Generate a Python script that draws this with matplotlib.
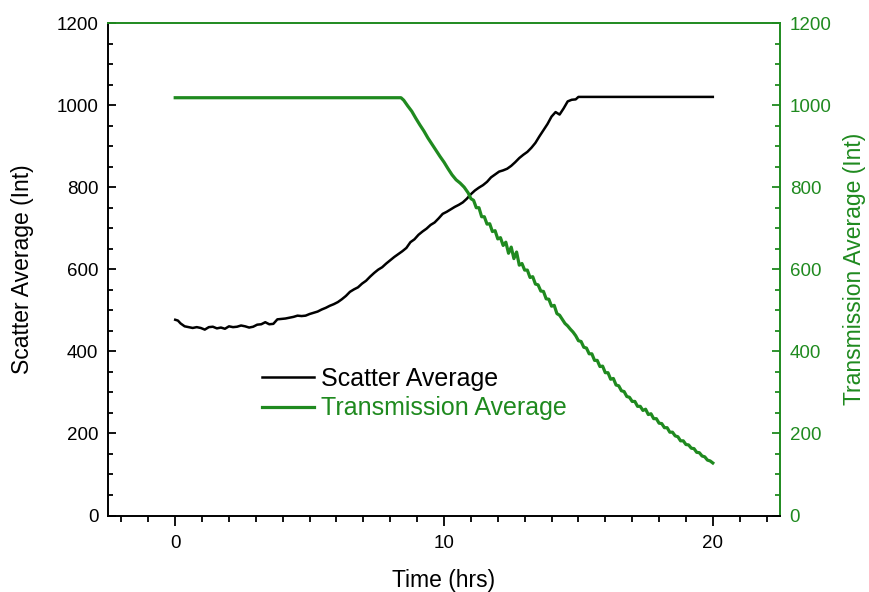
import matplotlib
matplotlib.use("Agg")
import matplotlib.pyplot as plt
from matplotlib.ticker import MultipleLocator

plt.rcParams['font.family'] = ['Liberation Sans', 'DejaVu Sans']

GREEN = "#1f8a1f"

# Scatter average (left axis)
scatter_t = [0.0, 0.1, 0.2, 0.35, 0.5, 0.65, 0.8, 0.95, 1.1, 1.25, 1.4, 1.55, 1.7, 1.85,
             2.0, 2.15, 2.3, 2.45, 2.6, 2.75, 2.9, 3.05, 3.2, 3.35, 3.5, 3.65, 3.8, 3.95,
             4.1, 4.25, 4.4, 4.55, 4.7, 4.85, 5.0, 5.15, 5.3, 5.45, 5.6, 5.75, 5.9, 6.05,
             6.2, 6.35, 6.5, 6.65, 6.8, 6.95, 7.1, 7.25, 7.4, 7.55, 7.7, 7.85, 8.0, 8.15,
             8.3, 8.45, 8.6, 8.75, 8.9, 9.05, 9.2, 9.35, 9.5, 9.65, 9.8, 9.95, 10.1, 10.25,
             10.4, 10.55, 10.7, 10.85, 11.0, 11.15, 11.3, 11.45, 11.6, 11.75, 11.9, 12.05,
             12.2, 12.35, 12.5, 12.65, 12.8, 12.95, 13.1, 13.25, 13.4, 13.55, 13.7, 13.85,
             14.0, 14.15, 14.3, 14.45, 14.6, 14.75, 14.9, 15.0, 16.0, 17.0, 18.0, 19.0, 20.0]
scatter = [477, 475, 468, 461, 459, 457, 459, 457, 453, 459, 460, 456, 458, 455,
           461, 459, 460, 463, 461, 458, 460, 465, 466, 471, 466, 467, 478, 479,
           480, 482, 484, 487, 486, 487, 491, 494, 497, 502, 506, 511, 515, 520,
           527, 535, 545, 551, 556, 565, 572, 582, 591, 599, 605, 614, 622, 630,
           637, 644, 652, 666, 673, 684, 692, 699, 708, 714, 724, 735, 740, 746,
           752, 757, 763, 772, 783, 792, 799, 805, 813, 824, 831, 838,
           841, 845, 852, 861, 871, 879, 886, 896, 908, 924, 939, 954,
           972, 983, 977, 992, 1009, 1013, 1014, 1020, 1020, 1020, 1020, 1020, 1020]

# Transmission average (right axis)
trans_t = [0.0, 2.0, 4.0, 6.0, 8.4, 8.5, 8.65, 8.8, 8.95, 9.1, 9.25, 9.4, 9.55, 9.7, 9.85,
           10.0, 10.15, 10.3, 10.45, 10.6, 10.75, 10.9, 11.0,
           11.1, 11.2, 11.3, 11.4, 11.5, 11.6, 11.7, 11.8, 11.9, 12.0,
           12.1, 12.2, 12.3, 12.4, 12.5, 12.6, 12.7, 12.8, 12.9, 13.0,
           13.1, 13.2, 13.3, 13.4, 13.5, 13.6, 13.7, 13.8, 13.9, 14.0,
           14.1, 14.2, 14.3, 14.4, 14.5, 14.6, 14.7, 14.8, 14.9, 15.0,
           15.1, 15.2, 15.3, 15.4, 15.5, 15.6, 15.7, 15.8, 15.9, 16.0,
           16.1, 16.2, 16.3, 16.4, 16.5, 16.6, 16.7, 16.8, 16.9, 17.0,
           17.1, 17.2, 17.3, 17.4, 17.5, 17.6, 17.7, 17.8, 17.9, 18.0,
           18.1, 18.2, 18.3, 18.4, 18.5, 18.6, 18.7, 18.8, 18.9, 19.0,
           19.1, 19.2, 19.3, 19.4, 19.5, 19.6, 19.7, 19.8, 19.9, 20.0]
trans = [1018, 1018, 1018, 1018, 1018, 1012, 998, 985, 968, 952, 937, 920, 905, 890, 875,
         861, 845, 830, 818, 810, 800, 786, 772,
         768, 750, 750, 728, 728, 710, 711, 692, 694, 674,
         677, 658, 666, 639, 654, 626, 642, 610, 614, 598,
         598, 580, 582, 564, 562, 547, 546, 528, 527, 510,
         512, 492, 488, 478, 468, 462, 454, 447, 438, 426,
         424, 410, 408, 394, 394, 378, 378, 363, 364, 348,
         348, 332, 334, 318, 316, 304, 302, 290, 288, 278,
         278, 266, 266, 256, 259, 246, 248, 236, 236, 225,
         224, 214, 214, 203, 203, 194, 192, 182, 182, 173,
         172, 164, 163, 154, 153, 145, 143, 135, 133, 128]

fig = plt.figure(figsize=(8.69, 5.92), dpi=100)
ax = fig.add_axes([0.1243, 0.1292, 0.7733, 0.8319])
ax2 = ax.twinx()

l1, = ax.plot(scatter_t, scatter, color="black", lw=1.8, label="Scatter Average")
l2, = ax2.plot(trans_t, trans, color=GREEN, lw=2.3, label="Transmission Average")

ax.set_xlim(-2.5, 22.5)
ax.set_ylim(0, 1200)
ax2.set_ylim(0, 1200)

ax.xaxis.set_major_locator(MultipleLocator(10))
ax.xaxis.set_minor_locator(MultipleLocator(1))
for a in (ax, ax2):
    a.yaxis.set_major_locator(MultipleLocator(200))
    a.yaxis.set_minor_locator(MultipleLocator(50))

ax.tick_params(axis='x', which='both', direction='out', top=False, labelsize=13.5,
               width=1.3, pad=7)
ax.tick_params(axis='x', which='major', length=7)
ax.tick_params(axis='x', which='minor', length=4.3)
ax.tick_params(axis='y', which='both', direction='in', right=False, labelsize=13.5,
               width=1.3, pad=7)
ax.tick_params(axis='y', which='major', length=6)
ax.tick_params(axis='y', which='minor', length=3.6)
ax2.tick_params(axis='y', which='both', direction='in', colors=GREEN, labelsize=13.5,
                width=1.3, pad=7)
ax2.tick_params(axis='y', which='major', length=6)
ax2.tick_params(axis='y', which='minor', length=3.6)

for s in ax.spines.values():
    s.set_visible(False)
ax2.spines['left'].set_color("black")
ax2.spines['bottom'].set_color("black")
ax2.spines['top'].set_color(GREEN)
ax2.spines['right'].set_color(GREEN)
for s in ax2.spines.values():
    s.set_linewidth(1.4)

ax.set_xlabel("Time (hrs)", fontsize=16.5, labelpad=12)
ax.set_ylabel("Scatter Average (Int)", fontsize=16.5, labelpad=16)
ax2.set_ylabel("Transmission Average (Int)", fontsize=16.5, color=GREEN, labelpad=8)

leg = ax2.legend(handles=[l1, l2], loc="upper left", bbox_to_anchor=(0.229, 0.302),
                 frameon=False, fontsize=18, handlelength=2.1, handletextpad=0.25,
                 labelspacing=0.22, borderpad=0, borderaxespad=0)
leg.get_texts()[1].set_color(GREEN)

fig.savefig("out.png", dpi=100)
